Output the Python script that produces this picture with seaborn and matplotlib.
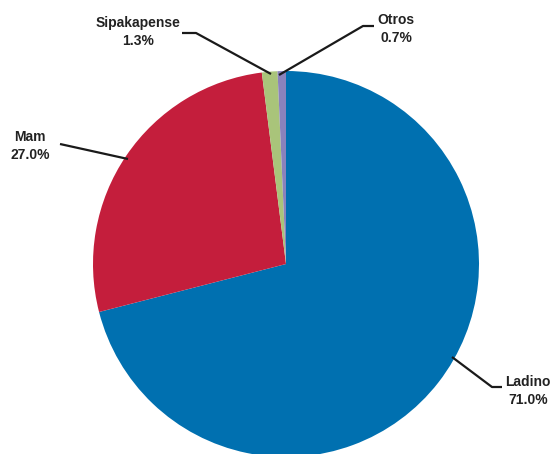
import matplotlib
matplotlib.use("Agg")
import matplotlib.pyplot as plt
import seaborn as sns

# Population share by ethnic group
groups = ["Ladino", "Mam", "Sipakapense", "Otros"]
shares = [71.0, 27.0, 1.3, 0.7]
colors = ["#0070B0", "#C41E3C", "#A9C47A", "#8A82BC"]

sns.set_theme(style="white")
plt.rcParams["font.family"] = ["Liberation Sans", "DejaVu Sans"]

W, H = 553, 454
fig = plt.figure(figsize=(W / 100, H / 100), dpi=100)
ax = fig.add_axes([0, 0, 1, 1])

cx, cy, R = 286, H - 264, 193
ax.pie(shares, colors=colors, startangle=90, counterclock=False,
       center=(cx, cy), radius=R, frame=True,
       wedgeprops=dict(linewidth=0))
ax.set_xlim(0, W)
ax.set_ylim(0, H)
ax.set_aspect("equal")
ax.axis("off")

# leader lines: anchor on the pie edge, elbow, end; label centre
leaders = {
    "Ladino":      [(452, 357), (492, 387), (502, 387), (528, 391)],
    "Mam":         [(128, 159), (60, 144), (60, 144), (30, 146)],
    "Sipakapense": [(271, 74), (196, 33), (182, 33), (138, 32)],
    "Otros":       [(279, 75), (363, 26), (374, 26), (396, 29)],
}

for name, val in zip(groups, shares):
    a, b, c, lab = leaders[name]
    xs = [a[0], b[0], c[0]]
    ys = [H - a[1], H - b[1], H - c[1]]
    ax.plot(xs, ys, color="#1a1a1a", lw=1.6, solid_capstyle="butt")
    ax.text(lab[0], H - lab[1], f"{name}\n{val:.1f}%", ha="center", va="center",
            fontsize=10, fontweight="bold", color="#222222", linespacing=1.35)

fig.savefig("out.png", dpi=100)
